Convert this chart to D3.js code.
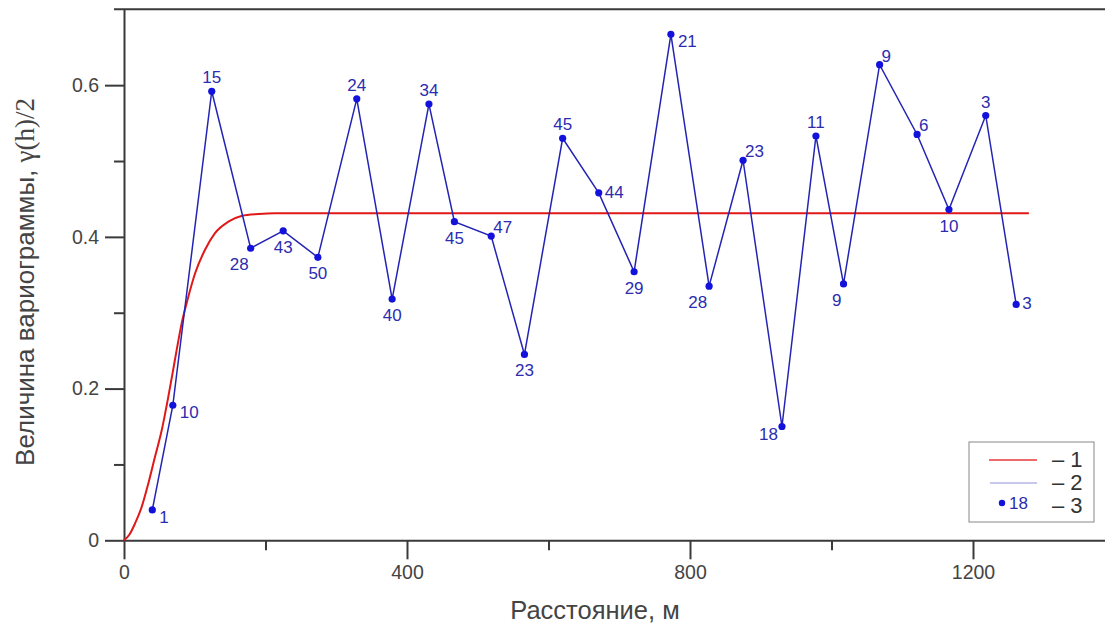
<!DOCTYPE html>
<html>
<head>
<meta charset="utf-8">
<script src="https://cdn.jsdelivr.net/npm/d3@7"></script>
<style>
  body { margin: 0; background: #fff; }
  svg { display: block; font-family: "Liberation Sans", Arial, sans-serif; }
</style>
</head>
<body>
<svg id="chart" width="1105" height="626"></svg>
<script>
// experimental variogram: lag (m), gamma value, number of pairs
const lags = [40, 69, 124, 179, 225, 274, 329, 379, 431, 467, 519, 566, 620, 671, 721, 773, 827, 875, 930, 978, 1017, 1068, 1121, 1166, 1218, 1261];
const gammas = [0.040, 0.178, 0.592, 0.385, 0.408, 0.373, 0.582, 0.318, 0.575, 0.420, 0.401, 0.245, 0.530, 0.458, 0.354, 0.667, 0.335, 0.501, 0.150, 0.533, 0.338, 0.627, 0.535, 0.436, 0.560, 0.311];
const pairs = [1, 10, 15, 28, 43, 50, 24, 40, 34, 45, 47, 23, 45, 44, 29, 21, 28, 23, 18, 11, 9, 9, 6, 10, 3, 3];
// where each pair count sits relative to its point
const labelPos = ["se", "se", "n", "sw", "s", "s", "n", "s", "n", "s", "ne", "s", "n", "e", "s", "se", "sw", "ne", "w", "n", "sw", "ne", "ne", "s", "n", "e"];

// model curve
const modelH = [0, 8, 15.5, 25, 34.4, 43.8, 53.3, 62.6, 72, 81.5, 90.9, 100.5, 114.5, 128.6, 147.5, 166, 190, 213, 1279];
const modelG = [0, 0.008, 0.022, 0.044, 0.075, 0.110, 0.145, 0.189, 0.238, 0.286, 0.321, 0.352, 0.383, 0.405, 0.420, 0.4276, 0.430, 0.431, 0.431];

const xTicks = [0, 400, 800, 1200];
const xMinor = [200, 600, 1000];
const yTicks = [0, 0.2, 0.4, 0.6];
const yMinor = [0.1, 0.3, 0.5];

const svg = d3.select("#chart");
const axisColor = "#3a3a3a";
const blue = "#2424b4";
const dotBlue = "#1212dc";
const red = "#e01818";

const x = d3.scaleLinear().domain([0, 1400]).range([124, 1114.5]);
const y = d3.scaleLinear().domain([0, 0.7]).range([540.3, 9.3]);

// top frame line
svg.append("line")
  .attr("x1", 114).attr("x2", 1105)
  .attr("y1", y(0.7)).attr("y2", y(0.7))
  .attr("stroke", axisColor).attr("stroke-width", 2);

const styleAxis = g => {
  g.select(".domain").attr("stroke", axisColor).attr("stroke-width", 2);
  g.selectAll(".tick line").attr("stroke", axisColor).attr("stroke-width", 2);
  g.selectAll(".tick text")
    .attr("fill", "#444")
    .attr("font-size", 19.5)
    .attr("font-family", "Liberation Sans, Arial, sans-serif");
};

// minor ticks
svg.append("g")
  .attr("transform", `translate(0,${y(0)})`)
  .call(d3.axisBottom(x).tickValues(xMinor).tickSize(10).tickFormat(""))
  .call(styleAxis)
  .call(g => g.select(".domain").remove());

svg.append("g")
  .attr("transform", `translate(${x(0)},0)`)
  .call(d3.axisLeft(y).tickValues(yMinor).tickSize(10).tickFormat(""))
  .call(styleAxis)
  .call(g => g.select(".domain").remove());

svg.append("g")
  .attr("transform", `translate(0,${y(0)})`)
  .call(d3.axisBottom(x).tickValues(xTicks).tickSize(19).tickSizeOuter(0).tickPadding(6).tickFormat(d3.format("d")))
  .call(styleAxis);

svg.append("g")
  .attr("transform", `translate(${x(0)},0)`)
  .call(d3.axisLeft(y).tickValues(yTicks).tickSize(19).tickSizeOuter(0).tickPadding(6)
    .tickFormat(d => d === 0 ? "0" : d3.format(".1f")(d)))
  .call(styleAxis);

// axis titles
svg.append("text")
  .attr("x", 595).attr("y", 619)
  .attr("text-anchor", "middle")
  .attr("font-size", 25.5)
  .attr("fill", "#444")
  .text("Расстояние, м");

const yTitle = svg.append("text")
  .attr("transform", "translate(34,282) rotate(-90)")
  .attr("text-anchor", "middle")
  .attr("font-size", 26)
  .attr("fill", "#444");
yTitle.append("tspan").text("Величина вариограммы, ");
yTitle.append("tspan").attr("font-family", "Liberation Serif, Times New Roman, serif").attr("font-size", 27).text("γ(h)/2");

// model curve
const model = modelH.map((h, i) => [h, modelG[i]]);
svg.append("path")
  .datum(model)
  .attr("fill", "none")
  .attr("stroke", red)
  .attr("stroke-width", 2)
  .attr("d", d3.line().x(d => x(d[0])).y(d => y(d[1])).curve(d3.curveMonotoneX));

// experimental variogram
const pts = lags.map((h, i) => ({ h, g: gammas[i], n: pairs[i], pos: labelPos[i] }));
svg.append("path")
  .datum(pts)
  .attr("fill", "none")
  .attr("stroke", blue)
  .attr("stroke-width", 1.5)
  .attr("d", d3.line().x(d => x(d.h)).y(d => y(d.g)));

svg.append("g")
  .selectAll("circle")
  .data(pts)
  .join("circle")
  .attr("cx", d => x(d.h))
  .attr("cy", d => y(d.g))
  .attr("r", 3.6)
  .attr("fill", dotBlue);

const offsets = {
  n: { dx: 0, dy: -8, anchor: "middle" },
  s: { dx: 0, dy: 22, anchor: "middle" },
  e: { dx: 6, dy: 5, anchor: "start" },
  ne: { dx: 2, dy: -3, anchor: "start" },
  se: { dx: 7, dy: 13, anchor: "start" },
  sw: { dx: -2, dy: 22, anchor: "end" },
  w: { dx: -4, dy: 13, anchor: "end" }
};

svg.append("g")
  .selectAll("text")
  .data(pts)
  .join("text")
  .attr("x", d => x(d.h) + offsets[d.pos].dx)
  .attr("y", d => y(d.g) + offsets[d.pos].dy)
  .attr("text-anchor", d => offsets[d.pos].anchor)
  .attr("font-size", 17)
  .attr("fill", "#2c2cb0")
  .text(d => d.n);

// legend
const legend = svg.append("g").attr("transform", "translate(969,442)");
legend.append("rect")
  .attr("width", 125).attr("height", 80)
  .attr("fill", "#fff")
  .attr("stroke", "#888").attr("stroke-width", 1);
legend.append("line")
  .attr("x1", 20).attr("x2", 68).attr("y1", 18).attr("y2", 18)
  .attr("stroke", red).attr("stroke-width", 1.3).attr("opacity", 0.85);
legend.append("line")
  .attr("x1", 21).attr("x2", 68).attr("y1", 41).attr("y2", 41)
  .attr("stroke", blue).attr("stroke-width", 1).attr("opacity", 0.5);
legend.append("circle")
  .attr("cx", 33).attr("cy", 61).attr("r", 3.2).attr("fill", dotBlue);
legend.append("text")
  .attr("x", 40).attr("y", 67)
  .attr("font-size", 17).attr("fill", "#2c2cb0")
  .text(pairs[18]);
["– 1", "– 2", "– 3"].forEach((t, i) => {
  legend.append("text")
    .attr("x", 83).attr("y", 25 + i * 23)
    .attr("font-size", 22).attr("fill", "#333")
    .text(t);
});
</script>
</body>
</html>
